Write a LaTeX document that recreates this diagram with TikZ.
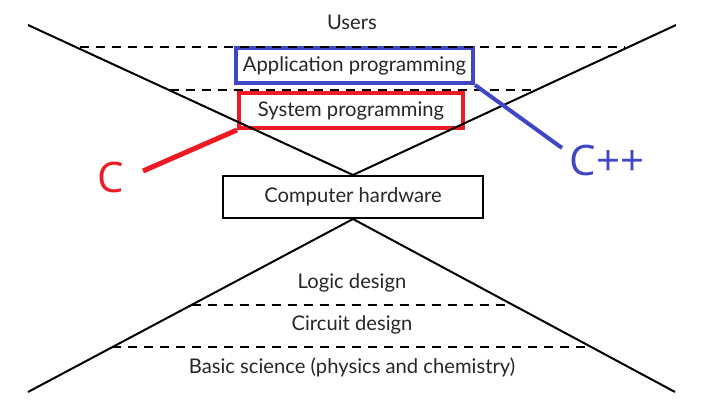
\documentclass[tikz,border=0pt]{standalone}
\usepackage{fontspec}
\setmainfont{Lato}
\newfontfamily\langfont{Open Sans}
\definecolor{cppblue}{RGB}{64,70,200}
\definecolor{cred}{RGB}{237,28,36}
\begin{document}
\begin{tikzpicture}[x=1pt,y=-1pt,
    layer/.style={text=black!85,font=\fontsize{20.2}{22}\selectfont,inner sep=0pt},
    framed/.style={layer,draw,line width=4pt,minimum width=#1,minimum height=35pt},
    slope/.style={line width=2pt},
    dashline/.style={line width=2.2pt,dash pattern=on 9pt off 7pt},
    lang/.style={font=\langfont\fontsize{42}{44}\selectfont,inner sep=0pt},
  ]
\useasboundingbox (0,0) rectangle (705,405);
% layers above the hardware
\node[layer,anchor=base] (users) at (352,29) {Users};
\node[framed=237pt,draw=cppblue] (app) at (354.5,65.5) {Application programming};
\node[framed=224pt,draw=cred] (sys) at (351,110.5) {System programming};
\node[layer,draw=black,line width=2pt,minimum width=260pt,minimum height=42pt] (hw) at (353,197) {Computer hardware};
% layers below the hardware
\node[layer,anchor=base] (logic) at (352,288) {Logic design};
\node[layer,anchor=base] (circuit) at (352,330) {Circuit design};
\node[layer,anchor=base] (science) at (352,373) {Basic science (physics and chemistry)};
% languages
\node[lang,text=cppblue] (cpp) at (607,160) {C++};
\node[lang,text=cred] (c) at (110.5,177.5) {C};
\coordinate (cppend) at (562,148);
\coordinate (cend) at (143,171);
% the two funnels
\coordinate (ul) at (28,25);
\coordinate (ur) at (676,25);
\coordinate (ll) at (28,392);
\coordinate (lr) at (675,392);
\draw[slope] (ul) -- (hw.north) -- (ur);
\draw[slope] (ll) -- (hw.south) -- (lr);
% dashed borders
\coordinate (d1a) at (80,47);   \coordinate (d1b) at (625,47);
\coordinate (d2a) at (170,90);  \coordinate (d2b) at (532,90);
\coordinate (d3a) at (192,305); \coordinate (d3b) at (505,305);
\coordinate (d4a) at (112,347); \coordinate (d4b) at (590,347);
\foreach \a/\b in {d1a/d1b,d2a/d2b,d3a/d3b,d4a/d4b}
  \draw[dashline] (\a) -- (\b);
% connectors
\draw[cppblue,line width=4pt] (app.south east) -- (cppend);
\draw[cred,line width=5pt] (sys.south west) -- (cend);
\end{tikzpicture}
\end{document}
